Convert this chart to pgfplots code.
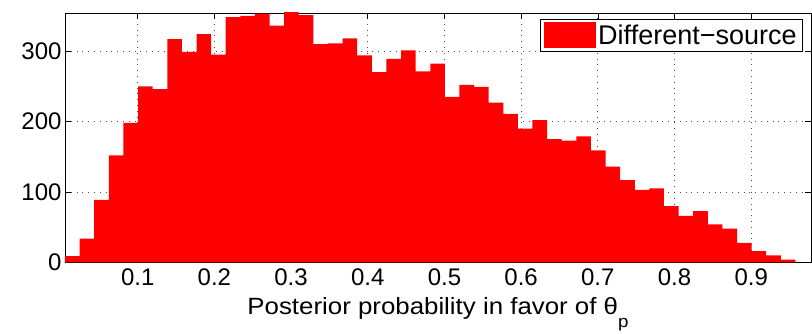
\documentclass[border=0pt]{standalone}
\usepackage{pgfplots}
\pgfplotsset{compat=1.18}
\usepackage{fontspec}
\setmainfont{Liberation Sans}
\begin{document}
\begin{tikzpicture}
\begin{axis}[
  scale only axis, width=746pt, height=249.5pt,
  xmin=0.0052, xmax=0.978, ymin=0, ymax=354,
  xtick={0.1,0.2,0.3,0.4,0.5,0.6,0.7,0.8,0.9},
  xticklabels={0.1,0.2,0.3,0.4,0.5,0.6,0.7,0.8,0.9},
  ytick={0,100,200,300},
  yticklabels={0,100,200,300},
  tick align=inside, major tick length=6pt,
  tick style={black, line width=0.6pt},
  axis line style={line width=0.8pt},
  grid=major,
  major grid style={black!70, line width=0.7pt, dash pattern=on 0.8pt off 5pt},
  ticklabel style={font=\fontsize{24}{24}\selectfont},
  xticklabel style={yshift=-3pt},
  xlabel={\scalebox{1.1}[1]{Posterior probability in favor of θ\raisebox{-0.55em}{\fontsize{17}{17}\selectfont p}}},
  xlabel style={font=\fontsize{23.5}{23.5}\selectfont, yshift=-5pt},
  legend style={at={(1,1)}, anchor=north east, xshift=-8pt, yshift=-6pt,
    draw=black, line width=0.8pt, font=\fontsize{27}{27}\selectfont,
    inner xsep=4pt, inner ysep=3pt},
  legend cell align=left,
]
\addplot[ybar interval, fill=red, draw=none,
  legend image code/.code={\fill[red] (0pt,-13pt) rectangle (52pt,13pt);}]
 coordinates {
(0.0052,9) (0.0243,34) (0.0433,89) (0.0624,152) (0.0814,198)
(0.1005,250) (0.1195,246) (0.1386,317) (0.1576,299) (0.1767,324)
(0.1957,295) (0.2148,348) (0.2338,350) (0.2529,353) (0.2719,336)
(0.2910,356) (0.3100,351) (0.3291,310) (0.3481,311) (0.3672,318)
(0.3862,294) (0.4053,270) (0.4243,289) (0.4434,301) (0.4624,271)
(0.4815,282) (0.5005,235) (0.5196,252) (0.5386,249) (0.5577,227)
(0.5767,211) (0.5958,190) (0.6148,202) (0.6339,175) (0.6529,173)
(0.6720,179) (0.6910,159) (0.7101,136) (0.7291,117) (0.7482,103)
(0.7672,105) (0.7863,80) (0.8053,66) (0.8244,73) (0.8434,54)
(0.8625,48) (0.8815,28) (0.9006,16) (0.9196,10) (0.9387,4)
(0.9577,4)
};
\addlegendentry{Different−source}
\coordinate (sw) at (rel axis cs:0,0);
\coordinate (ne) at (rel axis cs:1,1);
\end{axis}
\pgfresetboundingbox
\path[use as bounding box] ([xshift=-65pt,yshift=-71.5pt]sw) rectangle ([xshift=1pt,yshift=13pt]ne);
\end{tikzpicture}
\end{document}
